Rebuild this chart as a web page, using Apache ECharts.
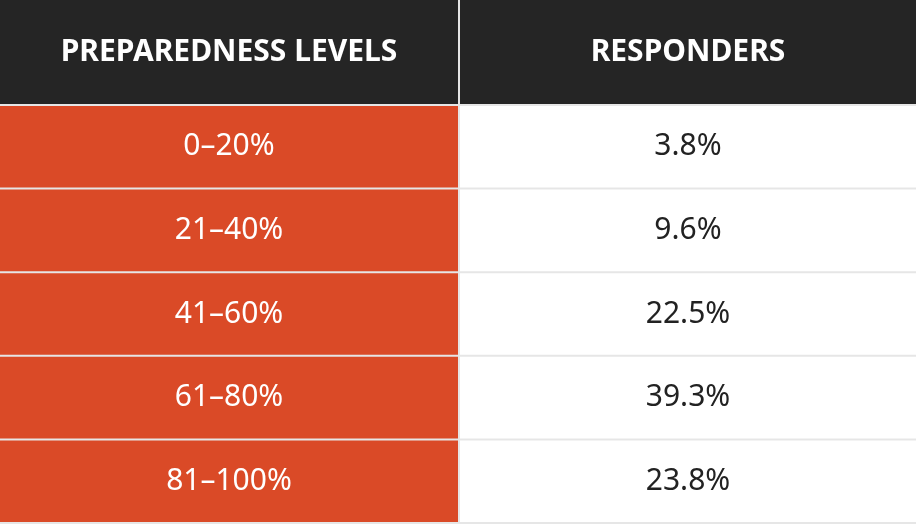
<!DOCTYPE html>
<html>
<head>
<meta charset="utf-8">
<script src="https://cdn.jsdelivr.net/npm/echarts@6/dist/echarts.min.js"></script>
<style>
  html, body { margin: 0; padding: 0; background: #fff; }
  .container { width: 916px; height: 524px; }
</style>
</head>
<body>
<div class="container"></div>
<script>
const headers = ['PREPAREDNESS LEVELS', 'RESPONDERS'];
const levels = ['0\u201320%', '21\u201340%', '41\u201360%', '61\u201380%', '81\u2013100%'];
const responders = [3.8, 9.6, 22.5, 39.3, 23.8];

(function () {
    let myChart = echarts.init(document.querySelector('.container'));
    const font = '"Noto Sans", "Open Sans", sans-serif';

    // cell renderer: fills the band of each category, leaves a thin gap for separators
    function cell(fillFor, colorFor, weight, size) {
        return function (params, api) {
            const c = api.coord([api.value(0), api.value(1)]);
            const w = api.size([1, 0])[0];
            const h = api.size([0, 1])[1];
            const col = api.value(0);
            const x0 = c[0] - w / 2 + (col === 1 ? 2 : 0);
            const x1 = c[0] + w / 2 - (col === 0 ? 0 : 0);
            const y0 = c[1] - h / 2;
            const y1 = c[1] + h / 2 - 2;
            return {
                type: 'group',
                children: [
                    { type: 'rect', shape: { x: x0, y: y0, width: x1 - x0, height: y1 - y0 },
                      style: { fill: fillFor(col) } },
                    { type: 'text', style: {
                        x: c[0] + (col === 1 ? 1 : 0), y: (y0 + y1) / 2,
                        text: api.value(2), fill: colorFor(col),
                        font: weight + ' ' + size + 'px ' + font,
                        align: 'center', verticalAlign: 'middle' } }
                ]
            };
        };
    }

    const headData = headers.map((h, i) => [i, 0, h]);
    const bodyData = [];
    levels.forEach((l, i) => {
        bodyData.push([0, i, l]);
        bodyData.push([1, i, responders[i].toFixed(1) + '%']);
    });

    const option = {
        backgroundColor: '#e6e6e6',
        animation: false,
        grid: [
            { left: 0, right: 0, top: 0, height: 106 },
            { left: 0, right: 0, top: 106, bottom: -2 }
        ],
        xAxis: [
            { type: 'category', gridIndex: 0, data: [0, 1], show: false },
            { type: 'category', gridIndex: 1, data: [0, 1], show: false }
        ],
        yAxis: [
            { type: 'category', gridIndex: 0, data: [0], show: false },
            { type: 'category', gridIndex: 1, data: levels, inverse: true, show: false }
        ],
        series: [
            {
                type: 'custom', xAxisIndex: 0, yAxisIndex: 0,
                data: headData,
                renderItem: cell(() => '#252525', () => '#ffffff', 'bold', 30)
            },
            {
                type: 'custom', xAxisIndex: 1, yAxisIndex: 1,
                data: bodyData,
                renderItem: cell(c => c === 0 ? '#da4a27' : '#ffffff',
                                 c => c === 0 ? '#ffffff' : '#222222', 'normal', 30)
            }
        ]
    };

    myChart.setOption(option);
})();
</script>
</body>
</html>
